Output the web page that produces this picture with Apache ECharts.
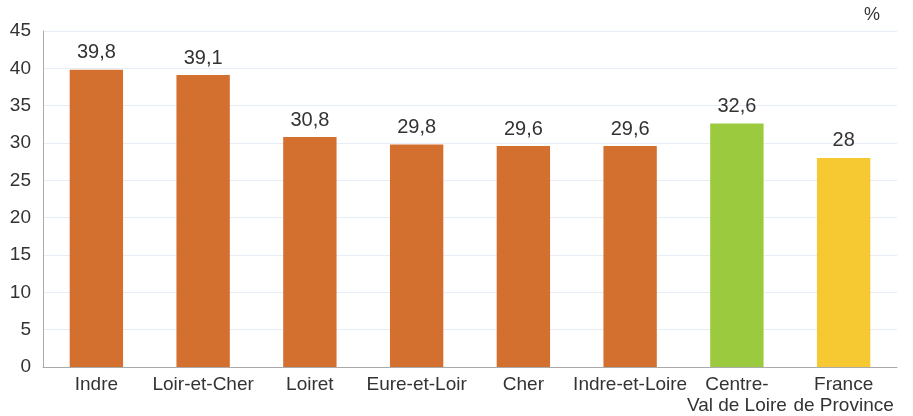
<!DOCTYPE html>
<html>
<head>
<meta charset="utf-8">
<script src="https://cdn.jsdelivr.net/npm/echarts@6/dist/echarts.min.js"></script>
<style>
  html, body { margin: 0; padding: 0; background: #fff; }
  #chart { width: 913px; height: 416px; }
</style>
</head>
<body>
<div id="chart"></div>
<script>
  const categories = ['Indre', 'Loir-et-Cher', 'Loiret', 'Eure-et-Loir', 'Cher', 'Indre-et-Loire', 'Centre-\nVal de Loire', 'France\nde Province'];
  const values = [39.8, 39.1, 30.8, 29.8, 29.6, 29.6, 32.6, 28];
  const barColors = ['#d4702f', '#d4702f', '#d4702f', '#d4702f', '#d4702f', '#d4702f', '#9bca3f', '#f6c932'];

  const chart = echarts.init(document.getElementById('chart'));

  chart.setOption({
    animation: false,
    textStyle: { fontFamily: 'Liberation Sans, Arial, sans-serif' },
    grid: { left: 43, right: 16, top: 31, bottom: 46, containLabel: false },
    graphic: [{
      type: 'text',
      right: 33,
      top: 6,
      style: { text: '%', fontSize: 18, fill: '#333', fontFamily: 'Liberation Sans, Arial, sans-serif' }
    }],
    xAxis: {
      type: 'category',
      data: categories,
      axisLine: { lineStyle: { color: '#aaa', width: 1 } },
      axisTick: { show: false },
      axisLabel: { color: '#333', fontSize: 19, margin: 7, lineHeight: 21, interval: 0 }
    },
    yAxis: {
      type: 'value',
      min: 0,
      max: 45,
      interval: 5,
      axisLine: { show: true, lineStyle: { color: '#aaa', width: 1 } },
      axisTick: { show: false },
      axisLabel: { color: '#333', fontSize: 19, margin: 12 },
      splitLine: { lineStyle: { color: '#e6edf5', width: 1 } }
    },
    series: [{
      type: 'bar',
      barWidth: '50%',
      data: values.map((v, i) => ({ value: v, itemStyle: { color: barColors[i] } })),
      label: {
        show: true,
        position: 'top',
        distance: 7,
        color: '#333',
        fontSize: 20,
        formatter: p => String(p.value).replace('.', ',')
      }
    }]
  });
</script>
</body>
</html>
